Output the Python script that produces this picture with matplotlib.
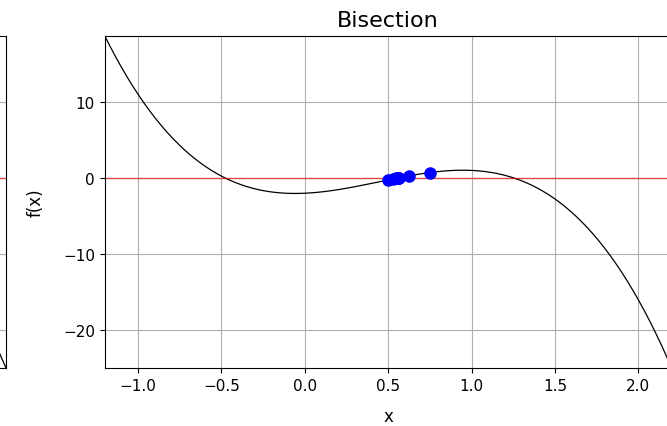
import numpy as np
import matplotlib
matplotlib.use("Agg")
import matplotlib.pyplot as plt
from matplotlib.ticker import MultipleLocator

# f(x) = -6x^3 + 8x^2 + x - 2
coeffs = [-6, 8, 1, -2]
x_range = [-1.2, 2.2]

# bisection iterates
bisect_x = [0.5, 0.75, 0.625, 0.5625, 0.53125, 0.546875, 0.5546875,
            0.55859375, 0.560546875, 0.5595703125, 0.55908203125]

x = np.linspace(x_range[0], x_range[1], 400)
y = np.polyval(coeffs, x)
bx = np.array(bisect_x)
by = np.polyval(coeffs, bx)

fig = plt.figure(figsize=(6.67, 4.27), dpi=100)

# neighbouring subplot, mostly cut off at the left edge
ax0 = fig.add_axes([-0.841, 0.1358, 0.850, 0.778])
ax0.plot(x, y, color="black", linewidth=0.9)
ax0.axhline(0, color="red", linewidth=1, alpha=0.6)
ax0.set_xlim(x_range)
ax0.set_ylim(y.min(), y.max())
ax0.yaxis.set_major_locator(MultipleLocator(10))
ax0.tick_params(labelleft=False, labelbottom=False)
ax0.grid(True)

ax = fig.add_axes([0.157, 0.1358, 0.850, 0.778])
ax.plot(x, y, color="black", linewidth=0.9)
ax.axhline(0, color="red", linewidth=1, alpha=0.6)
ax.plot(bx, by, "o", color="blue", markersize=8)
ax.set_xlim(x_range)
ax.set_ylim(y.min(), y.max())
ax.yaxis.set_major_locator(MultipleLocator(10))
ax.xaxis.set_major_locator(MultipleLocator(0.5))
ax.grid(True)
ax.tick_params(labelsize=11)
ax.set_title("Bisection", fontsize=16, pad=7)
ax.set_xlabel("x", fontsize=12, labelpad=10)
ax.set_ylabel("f(x)", fontsize=12, labelpad=13)

plt.savefig("out.png", dpi=100)
